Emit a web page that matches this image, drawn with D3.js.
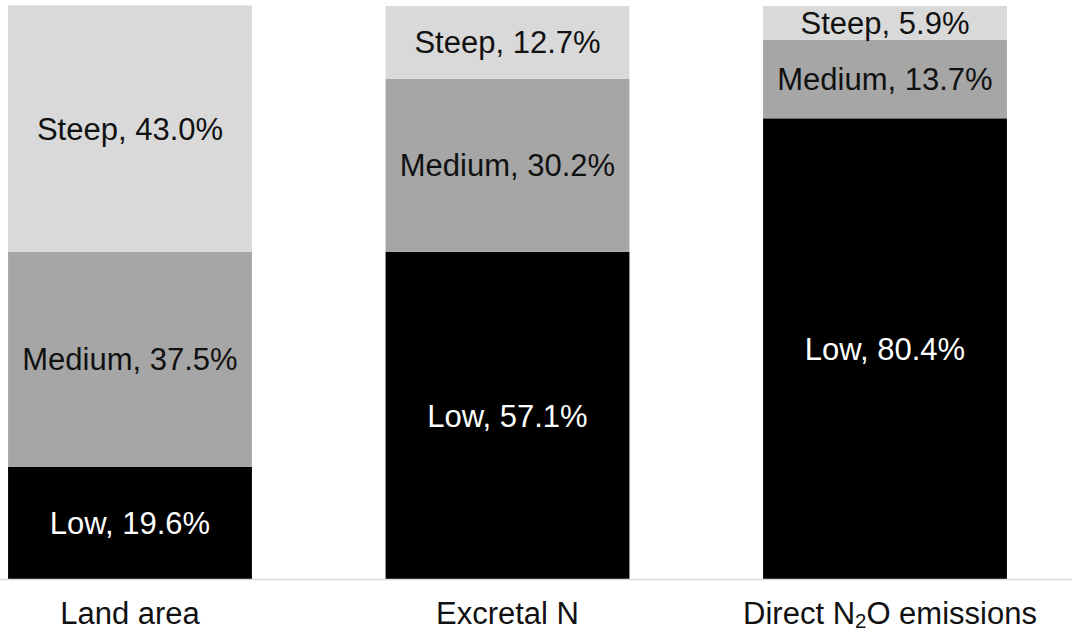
<!DOCTYPE html>
<html>
<head>
<meta charset="utf-8">
<script src="https://cdn.jsdelivr.net/npm/d3@7"></script>
<style>
  html, body { margin: 0; padding: 0; background: #fff; }
  svg { display: block; }
</style>
</head>
<body>
<svg id="chart" width="1072" height="632"></svg>
<script>
// Share of land area, excretal N and direct N2O emissions by slope class (%)
const categories = ["Land area", "Excretal N", "Direct N2O emissions"];
const slopeClasses = ["Low", "Medium", "Steep"];
const lowValues    = [19.6, 57.1, 80.4];
const mediumValues = [37.5, 30.2, 13.7];
const steepValues  = [43.0, 12.7, 5.9];

const fills = { Low: "#000000", Medium: "#a6a6a6", Steep: "#d9d9d9" };
const textColors = { Low: "#ffffff", Medium: "#111111", Steep: "#111111" };

const rows = categories.map((c, i) => ({
  category: c,
  Low: lowValues[i],
  Medium: mediumValues[i],
  Steep: steepValues[i]
}));

const svg = d3.select("#chart");
const fontFamily = "'Liberation Sans', Arial, Helvetica, sans-serif";
const fontSize = 31;

const x = d3.scaleBand()
  .domain(categories)
  .range([-58.75, 1073.75])
  .paddingInner(0.354)
  .paddingOuter(0.177);

const y = d3.scaleLinear().domain([0, 100]).range([579, 6]);

const series = d3.stack().keys(slopeClasses)(rows);

const layers = svg.append("g").selectAll("g")
  .data(series)
  .join("g")
  .attr("fill", d => fills[d.key]);

layers.selectAll("rect")
  .data(d => d.map(p => ({ key: d.key, p })))
  .join("rect")
  .attr("x", d => x(d.p.data.category))
  .attr("width", x.bandwidth())
  .attr("y", d => y(d.p[1]))
  .attr("height", d => y(d.p[0]) - y(d.p[1]));

// Segment labels, centred in each segment
const labels = svg.append("g")
  .attr("font-family", fontFamily)
  .attr("font-size", fontSize)
  .attr("text-anchor", "middle");

series.forEach(s => {
  s.forEach(p => {
    const cy = (y(p[0]) + y(p[1])) / 2;
    labels.append("text")
      .attr("x", x(p.data.category) + x.bandwidth() / 2)
      .attr("y", cy + fontSize * 0.358)
      .attr("fill", textColors[s.key])
      .text(`${s.key}, ${p.data[s.key].toFixed(1)}%`);
  });
});

// Baseline
svg.append("line")
  .attr("x1", 0).attr("x2", 1072)
  .attr("y1", 579.5).attr("y2", 579.5)
  .attr("stroke", "#d9d9d9")
  .attr("stroke-width", 1.5);

// Category labels
const axisLabels = svg.append("g")
  .attr("font-family", fontFamily)
  .attr("font-size", fontSize)
  .attr("fill", "#111111")
  .attr("text-anchor", "middle");

categories.forEach(c => {
  const cx = x(c) + x.bandwidth() / 2;
  const t = axisLabels.append("text").attr("y", 624);
  if (c === "Direct N2O emissions") {
    t.attr("x", cx + 5);
    t.append("tspan").text("Direct N");
    t.append("tspan").attr("font-size", fontSize * 0.66).attr("dy", 4).text("2");
    t.append("tspan").attr("dy", -4).text("O emissions");
  } else {
    t.attr("x", cx).text(c);
  }
});
</script>
</body>
</html>
